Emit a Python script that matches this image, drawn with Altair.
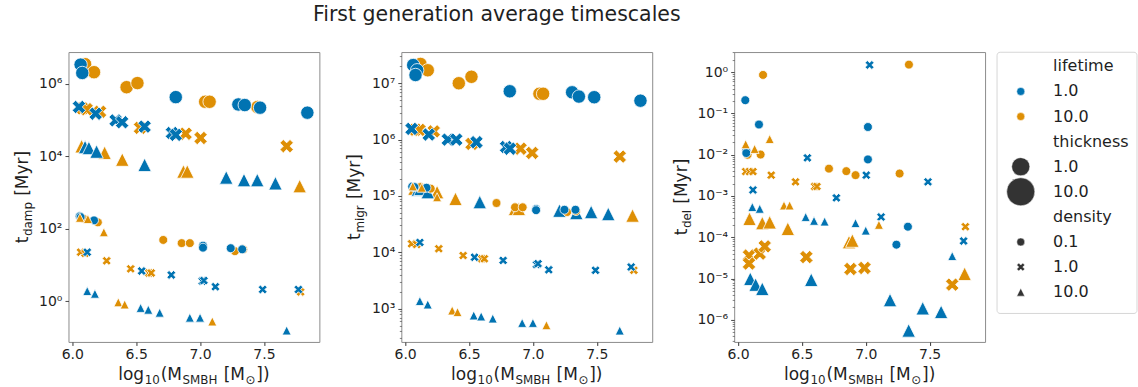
import altair as alt
import pandas as pd

FONT = "DejaVu Sans"
BLUE = "#0173B2"
ORANGE = "#DE8F05"
TXT = "#1f1f1f"

# ---------------- data: (log10 M_SMBH, timescale [Myr]) ----------------
# naming: <panel>_l<lifetime>_t<thickness>_d<density>
damp_l10_t10_d01 = [(6.10, 3.5e6), (6.17, 2.1e6), (6.425, 8.1e5), (6.51, 1.05e6), (7.04, 3.2e5), (7.075, 3.2e5), (7.45, 2.3e5)]
damp_l1_t10_d01 = [(6.065, 3.4e6), (6.078, 2.0e6), (6.81, 4.3e5), (7.30, 2.7e5), (7.35, 2.6e5), (7.47, 2.2e5), (7.84, 1.6e5)]
damp_l10_t10_d1 = [(6.08, 2.1e5), (6.112, 2.0e5), (6.217, 1.7e5), (6.53, 6.1e4), (6.887, 4.2e4), (7.004, 3.2e4), (7.678, 1.9e4)]
damp_l1_t10_d1 = [(6.052, 2.3e5), (6.183, 1.5e5), (6.339, 9.8e4), (6.39, 8.7e4), (6.566, 6.6e4), (6.78, 4.4e4), (6.81, 3.9e4)]
damp_l10_t10_d10 = [(6.073, 1.9e4), (6.253, 1.25e4), (6.391, 8.1e3), (6.87, 3.8e3), (6.90, 3.8e3), (7.78, 1.5e3)]
damp_l1_t10_d10 = [(6.10, 1.8e4), (6.13, 1.7e4), (6.19, 1.35e4), (6.566, 5.8e3), (7.205, 2.6e3), (7.344, 2.2e3), (7.448, 2.2e3), (7.59, 1.8e3)]
damp_l10_t1_d01 = [(6.086, 190), (6.2, 150), (6.712, 49), (6.856, 40), (6.92, 40), (7.273, 24), (7.338, 27)]
damp_l1_t1_d01 = [(6.057, 220), (6.065, 210), (6.17, 170), (7.023, 34), (7.023, 30), (7.24, 29), (7.33, 27)]
damp_l10_t1_d1 = [(6.065, 22.5), (6.10, 21), (6.269, 13), (6.457, 7.8), (6.60, 6.0), (6.618, 6.0), (7.787, 1.8)]
damp_l1_t1_d1 = [(6.117, 22.5), (6.543, 6.8), (6.775, 5.3), (7.017, 3.6), (7.03, 3.7), (7.12, 2.5), (7.49, 2.1), (7.77, 2.1)]
damp_l10_t1_d10 = [(6.06, 200), (6.122, 185), (6.247, 80), (6.36, 0.93), (6.41, 0.81), (7.096, 0.275)]
damp_l1_t1_d10 = [(6.117, 1.9), (6.177, 1.6), (6.535, 0.65), (6.595, 0.58), (6.684, 0.48), (6.92, 0.35), (7.0, 0.35), (7.678, 0.155)]

migr_l10_t10_d01 = [(6.12, 2.2e7), (6.177, 1.7e7), (6.42, 1.0e7), (6.519, 1.3e7), (7.051, 6.5e6), (7.08, 6.5e6)]
migr_l1_t10_d01 = [(6.063, 2.1e7), (6.094, 1.7e7), (6.081, 1.4e7), (6.819, 7.2e6), (7.307, 6.9e6), (7.36, 5.8e6), (7.48, 5.65e6), (7.842, 4.9e6)]
migr_l10_t10_d1 = [(6.08, 1.5e6), (6.112, 1.49e6), (6.224, 1.4e6), (6.52, 8.4e5), (6.903, 6.9e5), (6.994, 5.8e5), (7.68, 5.0e5)]
migr_l1_t10_d1 = [(6.05, 1.55e6), (6.185, 1.23e6), (6.334, 1.0e6), (6.40, 1.0e6), (6.558, 9.0e5), (6.79, 7.4e5), (6.82, 6.9e5)]
migr_l10_t10_d10 = [(6.073, 1.35e5), (6.25, 1.17e5), (6.394, 8.9e4), (6.86, 5.9e4), (6.89, 5.9e4), (7.78, 4.5e4)]
migr_l1_t10_d10 = [(6.10, 1.3e5), (6.12, 1.34e5), (6.177, 1.17e5), (6.584, 7.8e4), (7.208, 5.5e4), (7.34, 5.0e4), (7.456, 5.2e4), (7.59, 4.8e4)]
migr_l10_t1_d01 = [(6.12, 1.44e5), (6.2, 1.35e5), (6.715, 7.5e4), (6.86, 6.3e4), (6.92, 6.3e4), (7.268, 5.2e4), (7.338, 5.4e4)]
migr_l1_t1_d01 = [(6.055, 1.47e5), (6.073, 1.44e5), (6.167, 1.4e5), (7.025, 5.9e4), (7.025, 5.6e4), (7.247, 5.7e4), (7.333, 5.7e4)]
migr_l10_t1_d1 = [(6.05, 1.42e4), (6.09, 1.38e4), (6.263, 1.16e4), (6.454, 8.8e3), (6.60, 7.7e3), (6.62, 7.7e3), (7.79, 4.8e3)]
migr_l1_t1_d1 = [(6.115, 1.5e4), (6.543, 8.2e3), (6.767, 7.2e3), (7.028, 6.1e3), (7.04, 6.3e3), (7.124, 4.9e3), (7.49, 4.8e3), (7.769, 5.5e3)]
migr_l10_t1_d10 = [(6.06, 1.48e5), (6.13, 1.4e5), (6.25, 9.5e4), (6.368, 930), (6.41, 870), (7.106, 510)]
migr_l1_t1_d10 = [(6.115, 1370), (6.177, 1190), (6.537, 760), (6.595, 730), (6.686, 670), (6.916, 560), (7.0, 560), (7.68, 410)]

del_l10_t10_d01 = []
del_l1_t10_d01 = []
del_l10_t10_d1 = [(6.086, 3.6e-5), (6.086, 2.3e-5), (6.17, 4.0e-5), (6.209, 6.0e-5), (6.535, 3.3e-5), (6.88, 1.7e-5), (6.99, 1.8e-5), (7.677, 7.1e-6)]
del_l1_t10_d1 = []
del_l10_t10_d10 = [(6.09, 2.8e-4), (6.19, 2.2e-4), (6.248, 2.3e-4), (6.39, 1.6e-4), (6.869, 7.6e-5), (6.895, 8.3e-5), (7.774, 1.3e-5)]
del_l1_t10_d10 = [(6.096, 9.8e-6), (6.138, 7.1e-6), (6.19, 5.6e-6), (6.573, 9.3e-6), (7.19, 3.0e-6), (7.336, 5.5e-7), (7.446, 1.9e-6), (7.59, 1.55e-6)]
del_l10_t1_d01 = [(6.196, 0.86), (6.177, 0.0101), (7.338, 1.53), (6.712, 4.6e-3), (6.848, 4.0e-3), (6.92, 3.2e-3), (7.265, 3.5e-3), (6.075, 0.01)]
del_l1_t1_d01 = [(6.057, 0.21), (6.164, 0.054), (6.065, 0.0126), (6.065, 0.011), (7.017, 0.047), (7.017, 7.7e-3), (7.33, 1.8e-4), (7.24, 6.6e-5)]
del_l10_t1_d1 = [(6.06, 3.9e-3), (6.09, 3.9e-3), (6.117, 3.9e-3), (6.26, 3.2e-3), (6.45, 2.2e-3), (6.60, 1.7e-3), (6.618, 1.7e-3), (7.78, 1.8e-4)]
del_l1_t1_d1 = [(7.03, 1.5), (6.543, 8.4e-3), (6.117, 1.4e-3), (6.77, 9.0e-4), (7.004, 3.2e-3), (7.12, 3.1e-4), (7.487, 2.2e-3), (7.766, 8.1e-5)]
del_l10_t1_d10 = [(6.06, 0.018), (6.13, 0.0138), (6.248, 0.024), (6.36, 5.9e-4), (6.404, 5.9e-4), (7.103, 2.0e-4)]
del_l1_t1_d10 = [(6.112, 5.4e-4), (6.17, 4.9e-4), (6.53, 3.1e-4), (6.595, 2.5e-4), (6.678, 2.4e-4), (6.92, 2.2e-4), (7.0, 1.45e-4), (7.677, 3.5e-5)]

# group keys: (name suffix, lifetime, thickness, density) in drawing order
group_keys = [
    ("l10_t10_d01", "10.0", 10.0, "0.1"), ("l1_t10_d01", "1.0", 10.0, "0.1"),
    ("l10_t10_d1", "10.0", 10.0, "1.0"), ("l1_t10_d1", "1.0", 10.0, "1.0"),
    ("l10_t10_d10", "10.0", 10.0, "10.0"), ("l1_t10_d10", "1.0", 10.0, "10.0"),
    ("l10_t1_d01", "10.0", 1.0, "0.1"), ("l1_t1_d01", "1.0", 1.0, "0.1"),
    ("l10_t1_d1", "10.0", 1.0, "1.0"), ("l1_t1_d1", "1.0", 1.0, "1.0"),
    ("l10_t1_d10", "10.0", 1.0, "10.0"), ("l1_t1_d10", "1.0", 1.0, "10.0"),
]

# axis ticks
x_ticks = [6.0, 6.5, 7.0, 7.5]
damp_major = [0, 2, 4, 6]
migr_major = [3, 4, 5, 6, 7]
del_major = [-6, -5, -4, -3, -2, -1, 0]

# legend rows (legend size code: 0 = plain entry, otherwise the thickness value)
leg_label = ["lifetime", "1.0", "10.0", "thickness", "1.0", "10.0", "density", "0.1", "1.0", "10.0"]
leg_header = [True, False, False, True, False, False, True, False, False, False]
leg_color = ["", "1.0", "10.0", "", "other", "other", "", "other", "other", "other"]
leg_shape = ["", "0.1", "0.1", "", "0.1", "0.1", "", "0.1", "1.0", "10.0"]
leg_size = [0, 0, 0, 0, 1.0, 10.0, 0, 0, 0, 0]

# ---------------- helpers ----------------
X_PATH = "M-0.5,-1L0,-0.5L0.5,-1L1,-0.5L0.5,0L1,0.5L0.5,1L0,0.5L-0.5,1L-1,0.5L-0.5,0L-1,-0.5Z"
TRI_PATH = "M0,-1L1,1L-1,1Z"
SHAPES = ["circle", X_PATH, TRI_PATH]
XDOM = [5.970, 7.934]
W, H = 251, 290

ADV = {"l": .278, "o": .612, "g": .635, "1": .636, "0": .636, "(": .390, ")": .390, "M": .863,
       "S": .635, "B": .686, "H": .752, "[": .390, "]": .390, "\u2299": .838,
       "t": .392, "d": .635, "a": .613, "m": .974, "p": .635, "y": .592, "r": .411,
       "i": .278, "e": .615}
SPACE_EM = 0.318

ONE = pd.DataFrame({"k": [0]})


def make_df(prefix):
    rows = []
    for key, life, thick, dens in group_keys:
        for m, t in globals()[f"{prefix}_{key}"]:
            rows.append({"mass": m, "t": t, "lifetime": life, "thickness": thick, "density": dens})
    return pd.DataFrame(rows)


SUP = str.maketrans("0123456789-", "\u2070\u00b9\u00b2\u00b3\u2074\u2075\u2076\u2077\u2078\u2079\u207b")


def label_expr(exps):
    parts = [f"round(log(datum.value)/LN10*1000)=={e * 1000} ? '10{str(e).translate(SUP)}'" for e in exps]
    return " : ".join(parts) + " : ''"


MAJOR_TEST = "abs(log(datum.value)/LN10 - round(log(datum.value)/LN10)) < 0.001"


def rich_text(pieces, x, y, angle, F=17.0):
    """pieces: (text, is_subscript, leading_space)"""
    sub = 0.7 * F
    lay = []
    off = 0.0
    for txt, is_sub, lead in pieces:
        size = sub if is_sub else F
        if lead:
            off += SPACE_EM * F
        start = off + (0.6 if is_sub else 0)
        w = sum(ADV.get(c, 0.6) for c in txt) * size + (1.4 if is_sub else 0)
        lay.append((txt, is_sub, size, start))
        off += w
    total = off
    layers = []
    for txt, is_sub, size, start in lay:
        layers.append(
            alt.Chart(ONE).mark_text(
                text=txt, align="left", baseline="alphabetic", angle=angle,
                dx=start - total / 2, dy=(0.24 * F if is_sub else 0),
                fontSize=size, font=FONT, color=TXT,
            ).encode(x=alt.value(x), y=alt.value(y))
        )
    return layers


XTITLE = [("log", False, False), ("10", True, False), ("(M", False, False), ("SMBH", True, False),
          ("[M", False, True), ("\u2299", True, False), ("])", False, False)]


def point_layer(prefix, ydom, major, minor):
    df = make_df(prefix)
    values = sorted(set([10.0 ** e for e in major] + minor))
    return alt.Chart(df).mark_point(filled=True, opacity=1, stroke="white", strokeWidth=0.8).encode(
        x=alt.X("mass:Q", scale=alt.Scale(domain=XDOM, nice=False, zero=False),
                axis=alt.Axis(values=x_ticks, format=".1f", title=None, tickSize=3.5, labelPadding=2)),
        y=alt.Y("t:Q", scale=alt.Scale(type="log", domain=ydom, nice=False),
                axis=alt.Axis(values=values, labelExpr=label_expr(major), title=None, labelOverlap=False,
                              tickSize={"condition": {"test": MAJOR_TEST, "value": 3.5}, "value": 2},
                              tickWidth={"condition": {"test": MAJOR_TEST, "value": 0.9}, "value": 0.6},
                              labelPadding=3)),
        color=alt.Color("lifetime:N", scale=alt.Scale(domain=["1.0", "10.0"], range=[BLUE, ORANGE]), legend=None),
        shape=alt.Shape("density:N", scale=alt.Scale(domain=["0.1", "1.0", "10.0"], range=SHAPES), legend=None),
        size=alt.Size("thickness:Q", scale=alt.Scale(domain=[1.0, 10.0], range=[80, 180], zero=False), legend=None),
    )


def titles(sub, ytitle_x):
    ytitle = rich_text([("t", False, False), (sub, True, False), ("[Myr]", False, True)], ytitle_x, H / 2, 270)
    xtitle = rich_text(XTITLE, W / 2, H + 38.5, 0)
    return ytitle + xtitle


def minors(lo_exp, hi_exp, lo, hi):
    return [m * 10.0 ** k for k in range(lo_exp, hi_exp + 1) for m in range(2, 10) if lo <= m * 10.0 ** k <= hi]


d_lo, d_hi = 10 ** -1.126, 10 ** 6.878
m_lo, m_hi = 10 ** 2.411, 10 ** 7.553
e_lo, e_hi = 10 ** -6.538, 10 ** 0.489

suptitle = alt.Chart(ONE).mark_text(
    text="First generation average timescales", align="center", baseline="alphabetic",
    fontSize=20.5, font=FONT, color=TXT,
).encode(x=alt.value(95.5), y=alt.value(-31.5))

p1 = alt.layer(point_layer("damp", [d_lo, d_hi], damp_major, []), *titles("damp", -40.5)).properties(width=W, height=H)
p2 = alt.layer(point_layer("migr", [m_lo, m_hi], migr_major, minors(2, 7, m_lo, m_hi)),
               *titles("migr", -41), suptitle).properties(width=W, height=H)

# ---------------- legend (drawn to the right of the third panel) ----------------
LX = 263  # legend box left edge relative to the third plot area
leg = pd.DataFrame({"label": leg_label, "header": leg_header, "lcol": leg_color,
                    "lshp": leg_shape, "lsz": leg_size, "row": list(range(len(leg_label)))})
ROW0, ROWSTEP = 14.3, 25.1
rowy = alt.Y("row:Q", scale=alt.Scale(domain=[-ROW0 / ROWSTEP, (H - ROW0) / ROWSTEP], reverse=True,
                                      nice=False, zero=False), axis=None)
leg_box = alt.Chart(ONE).mark_rect(fillOpacity=0, stroke="#d6d6d6", strokeWidth=1, cornerRadius=3).encode(
    x=alt.value(LX), x2=alt.value(LX + 140), y=alt.value(0.2), y2=alt.value(261.5))
leg_text = alt.Chart(leg).mark_text(align="left", baseline="middle", fontSize=16, font=FONT, color=TXT).encode(
    x=alt.value(LX + 56), y=rowy, text="label:N")
leg_pts = alt.Chart(leg).transform_filter("!datum.header").mark_point(
    filled=True, opacity=1, stroke="white", strokeWidth=0.5).encode(
    x=alt.value(LX + 23.7), y=rowy,
    color=alt.Color("lcol:N", scale=alt.Scale(domain=["1.0", "10.0", "other"], range=[BLUE, ORANGE, "#333333"]), legend=None),
    shape=alt.Shape("lshp:N", scale=alt.Scale(domain=["0.1", "1.0", "10.0"], range=SHAPES), legend=None),
    size=alt.Size("lsz:Q", scale=alt.Scale(domain=[0, 1.0, 10.0], range=[64, 330, 790], zero=False), legend=None),
)

p3 = alt.layer(
    point_layer("del", [e_lo, e_hi], del_major, minors(-7, 0, e_lo, e_hi)),
    *titles("del", -47.5), leg_box, leg_pts, leg_text,
).resolve_scale(y="independent", color="independent", shape="independent", size="independent").properties(
    width=W, height=H)

chart = alt.hconcat(p1, p2, p3, spacing=82, bounds="flush").resolve_scale(
    color="independent", shape="independent", size="independent", x="independent", y="independent"
).properties(
    padding={"left": 13.5, "top": 4, "right": 0, "bottom": 0}
).configure_view(stroke="#8c8c8c", strokeWidth=1).configure_axis(
    labelFont=FONT, labelFontSize=14, labelColor=TXT, tickColor="#333333", domain=False, grid=False
)

chart.save("out.html", embed_options={"renderer": "svg", "actions": False})
